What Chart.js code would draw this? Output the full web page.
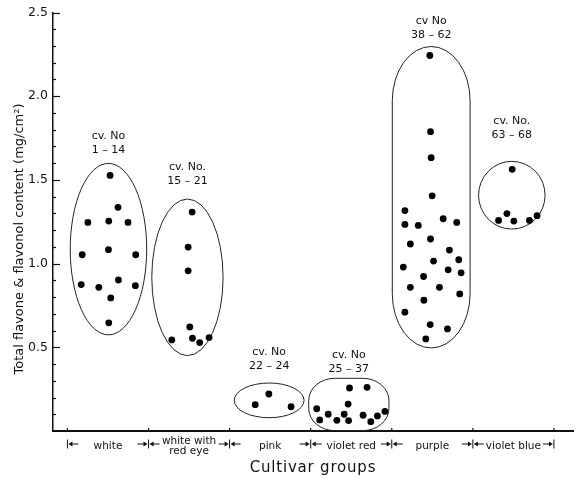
<!DOCTYPE html>
<html>
<head>
<meta charset="utf-8">
<script src="https://cdn.jsdelivr.net/npm/chart.js@4.4.1/dist/chart.umd.min.js"></script>
<style>
  html, body { margin: 0; padding: 0; background: #fff; }
  #wrap { width: 577px; height: 480px; }
</style>
</head>
<body>
<div id="wrap"><canvas id="c" width="577" height="480"></canvas></div>
<script>
// ---- data (x = position along cultivar-group axis, group index units; y = mg/cm2) ----
const groupLabels = [['white'], ['white with', 'red eye'], ['pink'], ['violet red'], ['purple'], ['violet blue']];
const groupCenters = [0, 1, 2, 3, 4, 5];
const groupBoundaries = [-0.5, 0.5, 1.5, 2.5, 3.5, 4.5, 5.5];
const cvLine = ['cv. No', 'cv. No.', 'cv. No', 'cv. No', 'cv No', 'cv. No.'];
const cvRange = ['1 – 14', '15 – 21', '22 – 24', '25 – 37', '38 – 62', '63 – 68'];
const yTickLabels = ['', '0.5', '1.0', '1.5', '2.0', '2.5'];
const xTitle = 'Cultivar groups';
const yTitle = 'Total flavone & flavonol content (mg/cm²)';

const whiteX = [0.026, 0.124, -0.248, 0.010, 0.247, -0.318, 0.006, 0.342, -0.330, -0.113, 0.129, 0.338, 0.034, 0.010];
const whiteY = [1.527, 1.336, 1.246, 1.254, 1.246, 1.053, 1.083, 1.053, 0.875, 0.858, 0.902, 0.868, 0.795, 0.646];

const redEyeX = [1.038, 0.989, 0.989, 1.009, 0.787, 1.042, 1.131, 1.247];
const redEyeY = [1.308, 1.099, 0.957, 0.622, 0.544, 0.554, 0.528, 0.558];

const pinkX = [1.816, 1.984, 2.258];
const pinkY = [0.157, 0.221, 0.145];

const violetRedX = [2.979, 3.195, 2.962, 2.574, 2.716, 2.611, 2.823, 2.913, 2.967, 3.146, 3.241, 3.323, 3.416];
const violetRedY = [0.257, 0.261, 0.161, 0.133, 0.100, 0.066, 0.064, 0.100, 0.062, 0.094, 0.056, 0.090, 0.117];

const purpleX = [3.969, 3.978, 3.986, 3.998, 3.662, 3.662, 3.827, 4.134, 4.301, 3.729, 3.978, 4.211, 4.015,
                 4.326, 3.642, 4.195, 4.355, 3.892, 3.729, 4.088, 4.338, 3.896, 3.662, 3.974, 4.187, 3.920];
const purpleY = [2.243, 1.788, 1.633, 1.405, 1.317, 1.234, 1.228, 1.268, 1.246, 1.117, 1.147, 1.081, 1.015,
                 1.023, 0.979, 0.963, 0.945, 0.923, 0.858, 0.858, 0.819, 0.781, 0.710, 0.636, 0.610, 0.550];

const violetBlueX = [4.985, 4.920, 4.817, 5.006, 5.198, 5.292];
const violetBlueY = [1.563, 1.299, 1.258, 1.254, 1.258, 1.286];

// ---- envelope styles (pixels / fractions), not data ----
const envPadX   = [11, 17, 17, 6, 10, 14];
const envPadY   = [12, 13, 11, 9, 9, 8];
const envShiftX = [0, -3, -4, -2, -1, -6];
const envCornerX = [1, 1, 1, 0.65, 1, 1];
const envCornerY = [1, 1, 1, 0.85, 0.36, 1];
const labelGap  = [13, 18, 17, 9, 11, 26];

const toPts = (xs, ys) => xs.map((x, i) => ({ x: x, y: ys[i] }));
const seriesX = [whiteX, redEyeX, pinkX, violetRedX, purpleX, violetBlueX];
const seriesY = [whiteY, redEyeY, pinkY, violetRedY, purpleY, violetBlueY];

const FONT = 'DejaVu Sans';
Chart.defaults.font.family = FONT;
Chart.defaults.color = '#111';

function envPath(ctx, cx, cy, rx, ry, kx, ky) {
  const a = rx * kx, b = ry * ky, P = Math.PI;
  ctx.beginPath();
  ctx.moveTo(cx - rx + a, cy - ry);
  ctx.lineTo(cx + rx - a, cy - ry);
  ctx.ellipse(cx + rx - a, cy - ry + b, a, b, 0, -P / 2, 0);
  ctx.lineTo(cx + rx, cy + ry - b);
  ctx.ellipse(cx + rx - a, cy + ry - b, a, b, 0, 0, P / 2);
  ctx.lineTo(cx - rx + a, cy + ry);
  ctx.ellipse(cx - rx + a, cy + ry - b, a, b, 0, P / 2, P);
  ctx.lineTo(cx - rx, cy - ry + b);
  ctx.ellipse(cx - rx + a, cy - ry + b, a, b, 0, P, 1.5 * P);
  ctx.closePath();
}

function arrow(ctx, fromX, toX, y) {
  const dir = Math.sign(toX - fromX);
  ctx.beginPath();
  ctx.moveTo(fromX, y);
  ctx.lineTo(toX - dir * 2, y);
  ctx.stroke();
  ctx.beginPath();
  ctx.moveTo(toX, y);
  ctx.lineTo(toX - dir * 4, y - 2.5);
  ctx.lineTo(toX - dir * 4, y + 2.5);
  ctx.closePath();
  ctx.fill();
}

const decor = {
  id: 'decor',
  beforeDatasetsDraw(chart) {
    const ctx = chart.ctx;
    ctx.save();
    ctx.strokeStyle = '#222';
    ctx.lineWidth = 1;
    chart.data.datasets.forEach((ds, i) => {
      const meta = chart.getDatasetMeta(i);
      const xs = meta.data.map(p => p.x), ys = meta.data.map(p => p.y);
      const x0 = Math.min(...xs), x1 = Math.max(...xs), y0 = Math.min(...ys), y1 = Math.max(...ys);
      const cx = (x0 + x1) / 2 + envShiftX[i], cy = (y0 + y1) / 2;
      const rx = (x1 - x0) / 2 + envPadX[i], ry = (y1 - y0) / 2 + envPadY[i];
      envPath(ctx, cx, cy, rx, ry, envCornerX[i], envCornerY[i]);
      ctx.stroke();
      const top = cy - ry;
      ctx.fillStyle = '#111';
      ctx.textAlign = 'center';
      ctx.textBaseline = 'middle';
      ctx.font = '11px "' + FONT + '"';
      ctx.fillText(cvLine[i], cx, top - labelGap[i] - 14);
      ctx.fillText(cvRange[i], cx, top - labelGap[i]);
    });
    ctx.restore();
  },
  afterDraw(chart) {
    const ctx = chart.ctx;
    const xs = chart.scales.x, ys = chart.scales.y;
    const area = chart.chartArea;
    ctx.save();
    ctx.strokeStyle = '#111';
    ctx.fillStyle = '#111';
    ctx.lineWidth = 1.2;
    // y ticks pointing inward: minor every 0.1, major every 0.5
    for (let k = 1; k <= 25; k++) {
      const v = k / 10;
      const py = Math.round(ys.getPixelForValue(v)) + 0.5;
      const len = (k % 5 === 0) ? 7 : 3;
      ctx.beginPath();
      ctx.moveTo(area.left, py);
      ctx.lineTo(area.left + len, py);
      ctx.stroke();
    }
    // x boundary ticks (upward, small)
    groupBoundaries.forEach(b => {
      const px = xs.getPixelForValue(b);
      ctx.beginPath();
      ctx.moveTo(px, area.bottom);
      ctx.lineTo(px, area.bottom - 3);
      ctx.stroke();
    });
    // bracket markers under the axis
    const my = 444;
    ctx.lineWidth = 1;
    groupBoundaries.forEach((b, k) => {
      const px = xs.getPixelForValue(b);
      ctx.beginPath();
      ctx.moveTo(px, my - 4.5);
      ctx.lineTo(px, my + 4.5);
      ctx.stroke();
      if (k > 0) arrow(ctx, px - 11, px - 1, my);
      if (k < groupBoundaries.length - 1) arrow(ctx, px + 11, px + 1, my);
    });
    // axis titles
    ctx.textAlign = 'center';
    ctx.textBaseline = 'middle';
    ctx.font = '15px "' + FONT + '"';
    ctx.letterSpacing = '0.8px';
    ctx.fillText(xTitle, (area.left + area.right) / 2, 468);
    ctx.letterSpacing = '0px';
    ctx.font = '13px "' + FONT + '"';
    ctx.translate(20, 239);
    ctx.rotate(-Math.PI / 2);
    ctx.fillText(yTitle, 0, 0);
    ctx.restore();
  }
};

const datasets = seriesX.map((xs, i) => ({
  label: groupLabels[i].join(' '),
  data: toPts(xs, seriesY[i]),
  pointRadius: 3.4,
  pointBackgroundColor: '#000',
  pointBorderWidth: 0,
  showLine: false
}));

new Chart(document.getElementById('c'), {
  type: 'scatter',
  data: { datasets },
  options: {
    responsive: false,
    animation: false,
    devicePixelRatio: 1,
    layout: { padding: { top: 11, right: 2, left: 0, bottom: 0 } },
    plugins: { legend: { display: false }, tooltip: { enabled: false } },
    scales: {
      x: {
        type: 'linear',
        min: -0.678,
        max: 5.735,
        afterFit(s) { s.height = 49; },
        afterBuildTicks(s) { s.ticks = groupCenters.map(v => ({ value: v })); },
        grid: { display: false, drawTicks: false },
        border: { display: true, color: '#111', width: 2 },
        ticks: {
          autoSkip: false,
          maxRotation: 0,
          padding: 10,
          crossAlign: 'center',
          font: { size: 10.5, lineHeight: 1.0 },
          color: '#111',
          callback: (v, i) => groupLabels[i]
        },
        title: { display: false }
      },
      y: {
        min: 0,
        max: 2.5,
        afterFit(s) { s.width = 53; },
        grid: { display: false, drawTicks: false },
        border: { display: true, color: '#111', width: 1.5 },
        ticks: {
          stepSize: 0.5,
          padding: 5,
          font: { size: 12.5 },
          color: '#111',
          callback: (v, i) => yTickLabels[i]
        },
        title: { display: false }
      }
    }
  },
  plugins: [decor]
});
</script>
</body>
</html>
